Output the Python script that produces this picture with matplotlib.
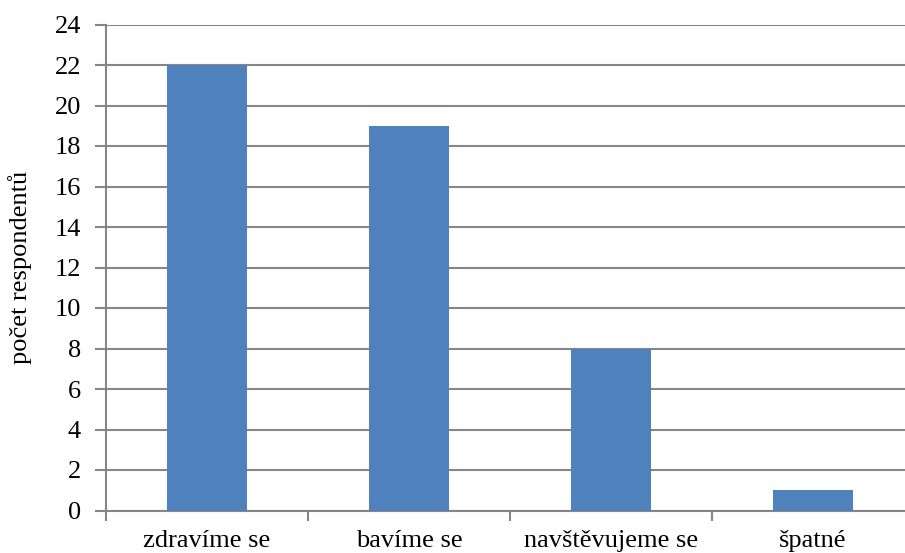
import matplotlib
matplotlib.use("Agg")
import matplotlib.pyplot as plt

# data
kategorie = ["zdravíme se", "bavíme se", "navštěvujeme se", "špatné"]
pocty = [22, 19, 8, 1]
yticks = list(range(0, 25, 2))

plt.rcParams['font.family'] = ['Liberation Serif', 'DejaVu Serif']

fig = plt.figure(figsize=(9.05, 5.53), dpi=100)
ax = fig.add_axes([106 / 905, 42.5 / 553, 808 / 905, 486 / 553])

seda = "#868686"
x = range(len(kategorie))
ax.bar(x, pocty, width=0.4, color="#4F81BD", zorder=3)

ax.set_xlim(-0.5, len(kategorie) - 0.5)
ax.set_ylim(0, 24)
ax.set_yticks(yticks)
ax.set_yticklabels([str(t) for t in yticks], fontsize=19)
ax.yaxis.grid(True, color=seda, linewidth=1.5, zorder=0)
ax.set_axisbelow(True)

# popisky kategorii mezi carkami
ax.set_xticks([i - 0.5 for i in range(len(kategorie) + 1)])
ax.set_xticklabels([])
ax.set_xticks(list(x), minor=True)
ax.set_xticklabels(kategorie, minor=True, fontsize=19)
ax.tick_params(axis="x", which="minor", length=0, pad=14)
ax.tick_params(axis="x", which="major", length=7, width=1.5, color=seda)
ax.tick_params(axis="y", length=8, width=1.5, color=seda, pad=10)

for s in ["top", "right"]:
    ax.spines[s].set_visible(False)
for s in ["left", "bottom"]:
    ax.spines[s].set_color(seda)
    ax.spines[s].set_linewidth(1.5)

ax.set_ylabel("počet respondentů", fontsize=19, labelpad=16)

fig.savefig("out.png", dpi=100)
